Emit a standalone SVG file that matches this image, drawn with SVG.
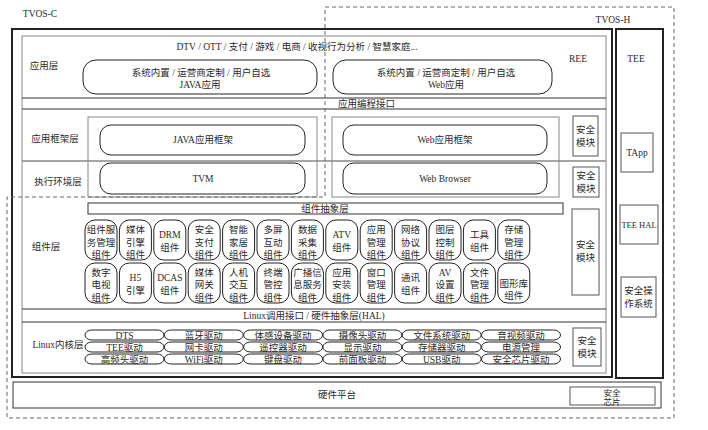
<svg xmlns="http://www.w3.org/2000/svg" width="708" height="430" viewBox="0 0 708 430">
<style>
text{font-family:"Liberation Serif","Noto Sans CJK SC",serif;font-size:9.5px;fill:#2a2a2a;text-anchor:middle}
.l{text-anchor:start}
.thick{fill:none;stroke:#222;stroke-width:2}
.thin{fill:none;stroke:#333;stroke-width:1}
.gray{fill:none;stroke:#888;stroke-width:1}
.pill{fill:#fff;stroke:#222;stroke-width:1}
.box{fill:#fff;stroke:#555;stroke-width:1}
.dash{fill:none;stroke:#666;stroke-width:1;stroke-dasharray:4 3}
</style>
<rect width="708" height="430" fill="#fff"/>

<g id="frames">
<rect class="thick" x="12" y="29" width="600" height="348"/>
<rect class="gray" x="22" y="36" width="584" height="337"/>
<rect class="thick" x="616" y="29" width="47" height="349"/>
<rect class="thin" x="13" y="382" width="648" height="26"/>
<line class="thin" x1="22" y1="98" x2="606" y2="98"/>
<line class="thin" x1="22" y1="109" x2="606" y2="109"/>
<line x1="22" y1="161" x2="606" y2="161" stroke="#888" stroke-width="1.5"/>
<line class="thin" x1="22" y1="309" x2="606" y2="309"/>
<line class="thin" x1="22" y1="322" x2="606" y2="322"/>
<rect class="gray" x="88" y="117" width="229" height="80"/>
<rect class="gray" x="332" y="117" width="227" height="80"/>
</g>

<g id="labels">
<text x="40" y="17">TVOS-C</text>
<text x="613" y="23">TVOS-H</text>
<text x="578" y="62">REE</text>
<text x="636" y="62">TEE</text>
<text x="44" y="69">应用层</text>
<text x="55" y="142">应用框架层</text>
<text x="58" y="185">执行环境层</text>
<text x="46" y="250">组件层</text>
<text x="58" y="348">Linux内核层</text>
<text x="297" y="50">DTV / OTT / 支付 / 游戏 / 电商 / 收视行为分析 / 智慧家庭...</text>
<text class="l" x="338" y="107">应用编程接口</text>
<text x="314" y="319">Linux调用接口 / 硬件抽象层(HAL)</text>
<text x="337" y="398">硬件平台</text>
</g>

<g id="java-app"><rect class="pill" x="83" y="60" width="234" height="34" rx="13"/><text x="201" y="76">系统内置 / 运营商定制 / 用户自选</text><text x="200" y="88">JAVA应用</text></g>
<g id="web-app"><rect class="pill" x="333" y="60" width="219" height="34" rx="13"/><text x="446" y="76">系统内置 / 运营商定制 / 用户自选</text><text x="446" y="88">Web应用</text></g>
<g id="java-fw"><rect class="pill" x="100" y="125" width="205" height="30" rx="11"/><text x="203" y="143">JAVA应用框架</text></g>
<g id="tvm"><rect class="pill" x="100" y="163" width="205" height="31" rx="11"/><text x="203" y="182">TVM</text></g>
<g id="web-fw"><rect class="pill" x="343" y="125" width="204" height="30" rx="11"/><text x="445" y="143">Web应用框架</text></g>
<g id="web-browser"><rect class="pill" x="343" y="163" width="204" height="31" rx="11"/><text x="445" y="182">Web Browser</text></g>

<g id="sec1"><rect class="box" x="573" y="116" width="25" height="40"/><text x="585.5" y="133">安全</text><text x="585.5" y="146">模块</text></g>
<g id="sec2"><rect class="box" x="573" y="167" width="26" height="30"/><text x="586" y="179">安全</text><text x="586" y="192">模块</text></g>
<g id="sec3"><rect class="box" x="572" y="209" width="27" height="86"/><text x="585.5" y="248">安全</text><text x="585.5" y="261">模块</text></g>
<g id="sec4"><rect class="box" x="573" y="328" width="28" height="38"/><text x="587" y="344">安全</text><text x="587" y="357">模块</text></g>

<g id="tapp"><rect class="box" x="621" y="133" width="32" height="39"/><text x="637" y="156">TApp</text></g>
<g id="tee-hal"><rect class="box" x="620" y="205" width="38" height="39"/><text x="639" y="228" style="font-size:8.5px">TEE HAL</text></g>
<g id="tee-os"><rect class="box" x="621" y="277" width="35" height="40"/><text x="638.5" y="294">安全操</text><text x="638.5" y="307">作系统</text></g>
<g id="sec-chip"><rect class="box" x="570" y="387" width="85" height="18"/><text x="612" y="396" style="font-size:8.5px">安全</text><text x="612" y="405" style="font-size:8.5px">芯片</text></g>

<g id="comp-abstract"><rect class="thin" x="88" y="203" width="475" height="11"/><text x="325" y="212">组件抽象层</text></g>

<g id="components">
<g id="c1"><rect class="pill" x="85" y="220" width="32" height="40" rx="10"/><text x="101" y="233">组件服</text><text x="101" y="245.5">务管理</text><text x="101" y="258">组件</text></g>
<g id="c2"><rect class="pill" x="119.4" y="220" width="32" height="40" rx="10"/><text x="135.4" y="233">媒体</text><text x="135.4" y="245.5">引擎</text><text x="135.4" y="258">组件</text></g>
<g id="c3"><rect class="pill" x="153.8" y="220" width="32" height="40" rx="10"/><text x="169.8" y="238">DRM</text><text x="169.8" y="251">组件</text></g>
<g id="c4"><rect class="pill" x="188.2" y="220" width="32" height="40" rx="10"/><text x="204.2" y="233">安全</text><text x="204.2" y="245.5">支付</text><text x="204.2" y="258">组件</text></g>
<g id="c5"><rect class="pill" x="222.6" y="220" width="32" height="40" rx="10"/><text x="238.6" y="233">智能</text><text x="238.6" y="245.5">家居</text><text x="238.6" y="258">组件</text></g>
<g id="c6"><rect class="pill" x="257" y="220" width="32" height="40" rx="10"/><text x="273" y="233">多屏</text><text x="273" y="245.5">互动</text><text x="273" y="258">组件</text></g>
<g id="c7"><rect class="pill" x="291.4" y="220" width="32" height="40" rx="10"/><text x="307.4" y="233">数据</text><text x="307.4" y="245.5">采集</text><text x="307.4" y="258">组件</text></g>
<g id="c8"><rect class="pill" x="325.8" y="220" width="32" height="40" rx="10"/><text x="341.8" y="238">ATV</text><text x="341.8" y="251">组件</text></g>
<g id="c9"><rect class="pill" x="360.2" y="220" width="32" height="40" rx="10"/><text x="376.2" y="233">应用</text><text x="376.2" y="245.5">管理</text><text x="376.2" y="258">组件</text></g>
<g id="c10"><rect class="pill" x="394.6" y="220" width="32" height="40" rx="10"/><text x="410.6" y="233">网络</text><text x="410.6" y="245.5">协议</text><text x="410.6" y="258">组件</text></g>
<g id="c11"><rect class="pill" x="429" y="220" width="32" height="40" rx="10"/><text x="445" y="233">图层</text><text x="445" y="245.5">控制</text><text x="445" y="258">组件</text></g>
<g id="c12"><rect class="pill" x="463.4" y="220" width="32" height="40" rx="10"/><text x="479.4" y="238">工具</text><text x="479.4" y="251">组件</text></g>
<g id="c13"><rect class="pill" x="497.8" y="220" width="32" height="40" rx="10"/><text x="513.8" y="233">存储</text><text x="513.8" y="245.5">管理</text><text x="513.8" y="258">组件</text></g>

<g id="c14"><rect class="pill" x="85" y="263" width="32" height="40" rx="10"/><text x="101" y="275.5">数字</text><text x="101" y="288">电视</text><text x="101" y="300.5">组件</text></g>
<g id="c15"><rect class="pill" x="119.4" y="263" width="32" height="40" rx="10"/><text x="135.4" y="281">H5</text><text x="135.4" y="294">引擎</text></g>
<g id="c16"><rect class="pill" x="153.8" y="263" width="32" height="40" rx="10"/><text x="169.8" y="281">DCAS</text><text x="169.8" y="294">组件</text></g>
<g id="c17"><rect class="pill" x="188.2" y="263" width="32" height="40" rx="10"/><text x="204.2" y="275.5">媒体</text><text x="204.2" y="288">网关</text><text x="204.2" y="300.5">组件</text></g>
<g id="c18"><rect class="pill" x="222.6" y="263" width="32" height="40" rx="10"/><text x="238.6" y="275.5">人机</text><text x="238.6" y="288">交互</text><text x="238.6" y="300.5">组件</text></g>
<g id="c19"><rect class="pill" x="257" y="263" width="32" height="40" rx="10"/><text x="273" y="275.5">终端</text><text x="273" y="288">管控</text><text x="273" y="300.5">组件</text></g>
<g id="c20"><rect class="pill" x="291.4" y="263" width="32" height="40" rx="10"/><text x="307.4" y="275.5">广播信</text><text x="307.4" y="288">息服务</text><text x="307.4" y="300.5">组件</text></g>
<g id="c21"><rect class="pill" x="325.8" y="263" width="32" height="40" rx="10"/><text x="341.8" y="275.5">应用</text><text x="341.8" y="288">安装</text><text x="341.8" y="300.5">组件</text></g>
<g id="c22"><rect class="pill" x="360.2" y="263" width="32" height="40" rx="10"/><text x="376.2" y="275.5">窗口</text><text x="376.2" y="288">管理</text><text x="376.2" y="300.5">组件</text></g>
<g id="c23"><rect class="pill" x="394.6" y="263" width="32" height="40" rx="10"/><text x="410.6" y="281">通讯</text><text x="410.6" y="294">组件</text></g>
<g id="c24"><rect class="pill" x="429" y="263" width="32" height="40" rx="10"/><text x="445" y="275.5">AV</text><text x="445" y="288">设置</text><text x="445" y="300.5">组件</text></g>
<g id="c25"><rect class="pill" x="463.4" y="263" width="32" height="40" rx="10"/><text x="479.4" y="275.5">文件</text><text x="479.4" y="288">管理</text><text x="479.4" y="300.5">组件</text></g>
<g id="c26"><rect class="pill" x="497.8" y="263" width="32" height="40" rx="10"/><text x="513.8" y="286.5">图形库</text><text x="513.8" y="299">组件</text></g>
</g>

<g id="drivers">
<g id="d1"><rect class="pill" x="85" y="330" width="79" height="10" rx="7" ry="5"/><text x="124.5" y="338.5">DTS</text></g>
<g id="d2"><rect class="pill" x="164.3" y="330" width="79" height="10" rx="7" ry="5"/><text x="203.8" y="338.5">蓝牙驱动</text></g>
<g id="d3"><rect class="pill" x="243.6" y="330" width="79" height="10" rx="7" ry="5"/><text x="283.1" y="338.5">体感设备驱动</text></g>
<g id="d4"><rect class="pill" x="322.9" y="330" width="79" height="10" rx="7" ry="5"/><text x="362.4" y="338.5">摄像头驱动</text></g>
<g id="d5"><rect class="pill" x="402.2" y="330" width="79" height="10" rx="7" ry="5"/><text x="441.7" y="338.5">文件系统驱动</text></g>
<g id="d6"><rect class="pill" x="481.5" y="330" width="79" height="10" rx="7" ry="5"/><text x="521" y="338.5">音视频驱动</text></g>
<g id="d7"><rect class="pill" x="85" y="342" width="79" height="10" rx="7" ry="5"/><text x="124.5" y="350.5">TEE驱动</text></g>
<g id="d8"><rect class="pill" x="164.3" y="342" width="79" height="10" rx="7" ry="5"/><text x="203.8" y="350.5">网卡驱动</text></g>
<g id="d9"><rect class="pill" x="243.6" y="342" width="79" height="10" rx="7" ry="5"/><text x="283.1" y="350.5">遥控器驱动</text></g>
<g id="d10"><rect class="pill" x="322.9" y="342" width="79" height="10" rx="7" ry="5"/><text x="362.4" y="350.5">显示驱动</text></g>
<g id="d11"><rect class="pill" x="402.2" y="342" width="79" height="10" rx="7" ry="5"/><text x="441.7" y="350.5">存储器驱动</text></g>
<g id="d12"><rect class="pill" x="481.5" y="342" width="79" height="10" rx="7" ry="5"/><text x="521" y="350.5">电源管理</text></g>
<g id="d13"><rect class="pill" x="85" y="354" width="79" height="10" rx="7" ry="5"/><text x="124.5" y="362.5">高频头驱动</text></g>
<g id="d14"><rect class="pill" x="164.3" y="354" width="79" height="10" rx="7" ry="5"/><text x="203.8" y="362.5">WiFi驱动</text></g>
<g id="d15"><rect class="pill" x="243.6" y="354" width="79" height="10" rx="7" ry="5"/><text x="283.1" y="362.5">键盘驱动</text></g>
<g id="d16"><rect class="pill" x="322.9" y="354" width="79" height="10" rx="7" ry="5"/><text x="362.4" y="362.5">前面板驱动</text></g>
<g id="d17"><rect class="pill" x="402.2" y="354" width="79" height="10" rx="7" ry="5"/><text x="441.7" y="362.5">USB驱动</text></g>
<g id="d18"><rect class="pill" x="481.5" y="354" width="79" height="10" rx="7" ry="5"/><text x="521" y="362.5">安全芯片驱动</text></g>
</g>

<g id="connectors">
<path class="dash" d="M325 7 H674 V418 H7 V197 H325 Z"/>
</g>
</svg>
